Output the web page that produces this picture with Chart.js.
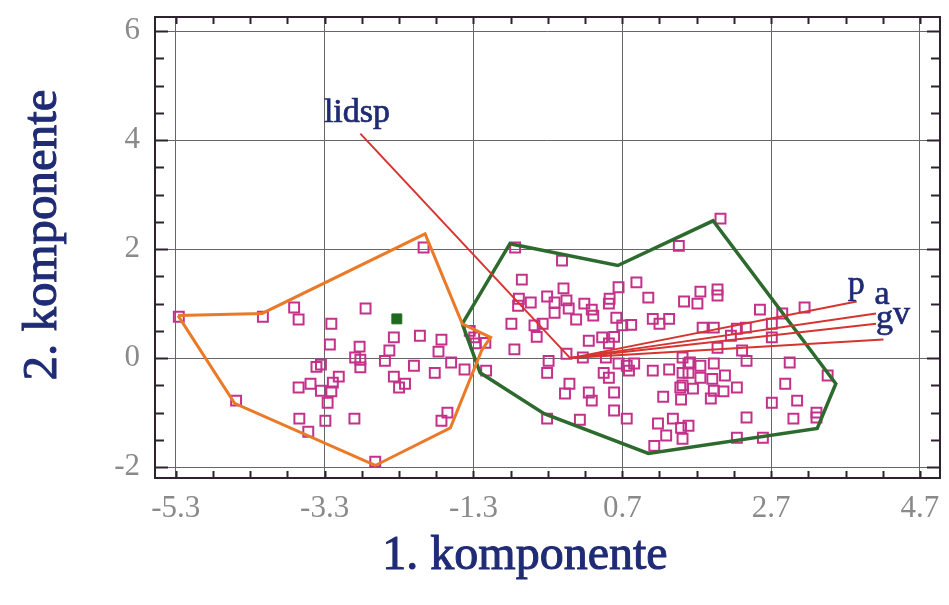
<!DOCTYPE html>
<html><head><meta charset="utf-8">
<script src="https://cdn.jsdelivr.net/npm/chart.js@4.4.0/dist/chart.umd.min.js"></script>
<style>html,body{margin:0;padding:0;background:#fff;} #c{display:block;}</style>
</head><body>
<canvas id="c" width="949" height="605"></canvas>
<script>
// ---- tick values ----
const xTicks = [-5.3, -3.3, -1.3, 0.7, 2.7, 4.7];
const yTicks = [-2, 0, 2, 4, 6];
const xMinor = [-5.3,-4.8,-4.3,-3.8,-3.3,-2.8,-2.3,-1.8,-1.3,-0.8,-0.3,0.2,0.7,1.2,1.7,2.2,2.7,3.2,3.7,4.2,4.7];
const yMinor = [-2,-1.5,-1,-0.5,0,0.5,1,1.5,2,2.5,3,3.5,4,4.5,5,5.5,6];

// ---- observations (open squares) ----
const ptsX = [-5.26,-4.13,-3.71,-3.65,-3.21,-2.75,-3.23,-2.83,-2.89,-2.82,-2.82,-3.35,-3.41,-3.11,-3.19,-3.65,-3.49,-3.35,-3.21,-3.26,
  -4.49,-3.64,-3.52,-3.29,-2.90,-2.62,-1.97,-2.37,-2.02,-1.73,-2.43,-1.77,-2.49,-2.10,-1.60,-1.42,-1.82,-2.37,-2.30,-2.22,
  -1.65,-1.73,-1.35,-1.29,-1.27,-1.14,-1.13,-0.74,-0.11,-0.65,-0.09,0.65,0.89,1.05,-0.69,-0.53,-0.70,-0.31,-0.21,-0.05,
  -0.21,-0.02,0.19,0.29,0.31,0.08,0.53,0.52,0.62,0.70,0.82,-0.79,-0.48,-0.37,-0.45,0.25,0.43,0.59,1.11,1.20,
  1.33,1.53,-0.75,-0.29,-0.31,-0.05,0.17,0.52,0.48,0.45,0.52,0.65,0.76,0.86,0.79,1.11,1.33,1.51,1.59,-0.01,
  -0.07,0.25,0.29,0.59,0.59,0.76,-0.31,0.13,1.25,1.49,1.51,1.18,1.38,1.49,1.29,1.13,1.51,1.46,2.02,1.71,
  1.75,1.98,1.98,2.55,2.85,3.15,1.78,1.93,2.16,2.24,2.36,2.71,2.71,1.98,2.31,2.37,2.95,1.51,1.61,1.75,
  1.93,1.59,1.75,1.91,2.08,2.24,1.48,1.65,1.93,2.06,1.89,2.89,2.71,3.05,3.46,3.00,3.31,3.31,2.37,2.24,
  2.59,1.59];
const ptsY = [0.76,0.76,0.93,0.71,0.63,0.91,0.25,0.21,0.01,-0.03,-0.17,-0.12,-0.16,-0.34,-0.45,-0.54,-0.47,-0.60,-0.61,-0.82,
  -0.78,-1.11,-1.35,-1.15,-1.11,-1.90,2.03,0.38,0.41,0.34,0.14,0.12,-0.05,-0.14,-0.08,-0.21,-0.27,-0.34,-0.54,-0.47,
  -1.00,-1.15,0.50,0.38,0.27,0.28,-0.23,2.03,1.79,1.44,1.28,1.30,1.39,1.11,1.09,1.02,0.96,1.13,1.02,1.06,
  0.83,0.91,1.00,0.89,0.78,0.71,1.09,1.00,0.74,0.60,0.61,0.63,0.60,0.63,0.39,0.32,0.38,0.39,0.72,0.63,
  0.72,1.04,0.16,-0.05,-0.27,0.08,0.01,0.27,0.01,-0.27,-0.36,-0.10,-0.14,-0.10,-0.23,-0.23,-0.21,-0.27,-0.10,-0.47,
  -0.65,-0.63,-0.78,-0.63,-0.96,-1.11,-1.11,-1.13,-0.71,-0.76,-0.50,-1.20,-1.11,-1.28,-1.42,-1.61,-1.48,2.06,2.56,1.00,
  1.22,1.26,1.15,0.89,0.82,0.93,0.56,0.56,0.41,0.54,0.56,0.63,0.38,0.19,0.14,-0.05,-0.08,0.01,-0.08,-0.14,
  -0.10,-0.27,-0.36,-0.38,-0.32,-0.54,-0.54,-0.56,-0.60,-0.61,-0.74,-0.47,-0.82,-0.78,-0.32,-1.11,-1.00,-1.09,-1.09,-1.46,
  -1.46,-1.24];

// ---- group hulls ----
const orangeX = [-5.27,-4.14,-1.95,-1.45,-1.07,-1.19,-1.61,-2.62,-4.51,-5.27];
const orangeY = [0.78,0.82,2.28,0.63,0.38,0.14,-1.28,-1.97,-0.83,0.78];
const greenX = [-1.45,-0.81,0.64,1.92,3.57,3.32,1.05,-0.35,-1.21,-1.45];
const greenY = [0.63,2.10,1.70,2.52,-0.47,-1.29,-1.75,-1.02,-0.27,0.63];

// ---- group centroid (filled square) ----
const centX = [-2.33];
const centY = [0.72];

// ---- variable vectors (from origin) ----
const vecNames = ['lidsp', 'p', 'a', 'g', 'v'];
const vecX = [-2.82, 3.85, 4.11, 4.11, 4.21];
const vecY = [4.12, 1.04, 0.82, 0.63, 0.34];
const labX = [-3.31, 3.73, 4.09, 4.11, 4.34];
const labY = [4.34, 1.18, 1.00, 0.56, 0.63];

const zip = (xs, ys) => xs.map((x, i) => ({x: x, y: ys[i]}));

const datasets = [];
vecX.forEach((vx, i) => {
  datasets.push({
    label: vecNames[i], data: [{x: 0, y: 0}, {x: vx, y: vecY[i]}],
    showLine: true, borderColor: '#d5342f', borderWidth: 2, pointRadius: 0, fill: false, order: 1
  });
});
datasets.push({label: 'g1', data: zip(orangeX, orangeY), showLine: true, borderColor: '#ea7a27',
  borderWidth: 3, pointRadius: 0, fill: false, order: 2});
datasets.push({label: 'g2', data: zip(greenX, greenY), showLine: true, borderColor: '#2d6a2d',
  borderWidth: 3.5, pointRadius: 0, fill: false, order: 2});
datasets.push({label: 'obs', data: zip(ptsX, ptsY), pointStyle: 'rect', pointRadius: 7,
  borderColor: '#c4318a', borderWidth: 2, backgroundColor: 'rgba(0,0,0,0)', order: 3});
datasets.push({label: 'centroid', data: zip(centX, centY), pointStyle: 'rect', pointRadius: 7,
  borderColor: '#1f6a1f', borderWidth: 1, backgroundColor: '#1f6a1f', order: 0});

const serif = '"Liberation Serif", "DejaVu Serif", serif';

const framePlugin = {
  id: 'frame',
  beforeDatasetsDraw(chart) {
    const {ctx, chartArea: a, scales: {x, y}} = chart;
    ctx.save();
    ctx.strokeStyle = '#2e2230';
    ctx.lineWidth = 2;
    ctx.strokeRect(a.left, a.top, a.right - a.left, a.bottom - a.top);
    ctx.beginPath();
    yMinor.forEach(v => {
      const py = Math.round(y.getPixelForValue(v)) + 0.5;
      const len = yTicks.includes(v) ? 13 : 9;
      ctx.moveTo(a.left, py); ctx.lineTo(a.left + len, py);
      ctx.moveTo(a.right, py); ctx.lineTo(a.right - len, py);
    });
    xMinor.forEach(v => {
      const px = Math.round(x.getPixelForValue(v)) + 0.5;
      ctx.moveTo(px, a.bottom); ctx.lineTo(px, a.bottom - 7);
      ctx.moveTo(px, a.top); ctx.lineTo(px, a.top + 7);
    });
    ctx.stroke();
    ctx.restore();
  },
  afterDraw(chart) {
    const {ctx, scales: {x, y}} = chart;
    ctx.save();
    ctx.fillStyle = '#1f2b74';
    ctx.strokeStyle = '#1f2b74';
    ctx.lineWidth = 0.7;
    ctx.font = '34px ' + serif;
    ctx.textAlign = 'left';
    ctx.textBaseline = 'alphabetic';
    vecNames.forEach((n, i) => {
      const px = x.getPixelForValue(labX[i]), py = y.getPixelForValue(labY[i]);
      ctx.fillText(n, px, py);
      ctx.strokeText(n, px, py);
    });
    ctx.font = '48px ' + serif;
    ctx.textAlign = 'center';
    ctx.lineWidth = 1;
    ctx.fillText('1. komponente', 525, 569);
    ctx.strokeText('1. komponente', 525, 569);
    ctx.translate(56, 235);
    ctx.rotate(-Math.PI / 2);
    ctx.font = '49px ' + serif;
    ctx.fillText('2. komponente', 0, 0);
    ctx.strokeText('2. komponente', 0, 0);
    ctx.restore();
  }
};

new Chart(document.getElementById('c'), {
  type: 'scatter',
  data: {datasets},
  options: {
    responsive: false,
    animation: false,
    events: [],
    layout: {padding: {top: 17, right: 2, left: 0, bottom: 0}},
    plugins: {legend: {display: false}, tooltip: {enabled: false}},
    scales: {
      x: {
        type: 'linear', min: -5.58, max: 4.97,
        afterBuildTicks: s => { s.ticks = xTicks.map(v => ({value: v})); },
        afterFit: s => { s.height = 127; s.paddingLeft = 0; s.paddingRight = 0; },
        grid: {color: '#666666', lineWidth: 1, drawTicks: false},
        border: {display: false},
        ticks: {font: {family: serif, size: 31}, color: '#8a8a8a', padding: 12,
          callback: v => v.toFixed(1)}
      },
      y: {
        type: 'linear', min: -2.2, max: 6.26,
        afterBuildTicks: s => { s.ticks = yTicks.map(v => ({value: v})); },
        afterFit: s => { s.width = 155; s.paddingTop = 0; s.paddingBottom = 0; },
        grid: {color: '#666666', lineWidth: 1, drawTicks: false},
        border: {display: false},
        ticks: {font: {family: serif, size: 31}, color: '#8a8a8a', padding: 15,
          callback: v => String(v)}
      }
    }
  },
  plugins: [framePlugin]
});
</script>
</body></html>
